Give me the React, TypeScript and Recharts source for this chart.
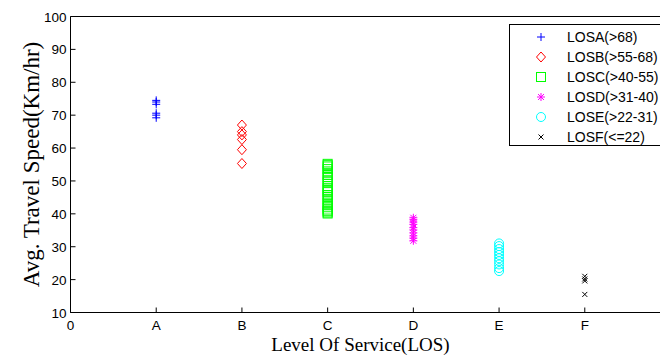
import React from "react";
import { ScatterChart, Scatter, XAxis, YAxis, Legend } from "recharts";

// category positions on the x axis (0 = origin label, then A..F)
const xTickLabels = ["0", "A", "B", "C", "D", "E", "F"];
const yTicks = [10, 20, 30, 40, 50, 60, 70, 80, 90, 100];

// travel speeds, one list per LOS class
const losA = [74.5, 74, 73.3, 70.6, 70, 69.2];
const losB = [67, 65, 64, 62.6, 59.5, 55.3];
const losC = [
  55.2, 54.8, 54.4, 53.6, 52.9, 51.8, 51.2, 50.1, 49.6, 48.4, 47.8, 47.2,
  46.6, 45.7, 45.1, 44.3, 43.4, 42.6, 42, 41.3, 40.8, 40.4, 40.1,
];
const losD = [38.8, 38.2, 37.5, 36.8, 35.8, 35.1, 34.2, 33.3, 32.6, 31.8];
const losE = [31, 30.2, 29.3, 28.4, 27.5, 26.5, 25.6, 24.6, 23.5, 22.6];
const losF = [21, 20.2, 19.6, 15.5];

type Kind = "plus" | "diamond" | "square" | "star" | "circle" | "x";

const series: { name: string; x: number; values: number[]; color: string; kind: Kind }[] = [
  { name: "LOSA(>68)", x: 1, values: losA, color: "#0000ff", kind: "plus" },
  { name: "LOSB(>55-68)", x: 2, values: losB, color: "#ff0000", kind: "diamond" },
  { name: "LOSC(>40-55)", x: 3, values: losC, color: "#00ff00", kind: "square" },
  { name: "LOSD(>31-40)", x: 4, values: losD, color: "#ff00ff", kind: "star" },
  { name: "LOSE(>22-31)", x: 5, values: losE, color: "#00ffff", kind: "circle" },
  { name: "LOSF(<=22)", x: 6, values: losF, color: "#000000", kind: "x" },
];

const tickFont = { fontFamily: "'Liberation Sans', Arial, sans-serif", fontSize: 13.5, fill: "#000" };

function Marker({ kind, cx, cy, color }: { kind: Kind; cx: number; cy: number; color: string }) {
  const p = { stroke: color, strokeWidth: 1, fill: "none" };
  switch (kind) {
    case "plus":
      return (
        <g {...p}>
          <line x1={cx - 4} y1={cy} x2={cx + 4} y2={cy} />
          <line x1={cx} y1={cy - 4} x2={cx} y2={cy + 4} />
        </g>
      );
    case "diamond":
      return <polygon {...p} points={`${cx},${cy - 5} ${cx + 4.5},${cy} ${cx},${cy + 5} ${cx - 4.5},${cy}`} />;
    case "square":
      return <rect {...p} x={cx - 4.5} y={cy - 4.5} width={9} height={9} />;
    case "star":
      return (
        <g {...p}>
          <line x1={cx - 4} y1={cy} x2={cx + 4} y2={cy} />
          <line x1={cx} y1={cy - 4} x2={cx} y2={cy + 4} />
          <line x1={cx - 3} y1={cy - 3} x2={cx + 3} y2={cy + 3} />
          <line x1={cx - 3} y1={cy + 3} x2={cx + 3} y2={cy - 3} />
        </g>
      );
    case "circle":
      return <circle {...p} cx={cx} cy={cy} r={4.5} />;
    default:
      return (
        <g {...p}>
          <line x1={cx - 2.5} y1={cy - 2.5} x2={cx + 2.5} y2={cy + 2.5} />
          <line x1={cx - 2.5} y1={cy + 2.5} x2={cx + 2.5} y2={cy - 2.5} />
        </g>
      );
  }
}

const BottomTick = (props: any) => {
  const { x, y, payload } = props;
  return (
    <g>
      <line x1={x} y1={y} x2={x} y2={y - 5} stroke="#000" />
      <text x={x} y={y + 17} textAnchor="middle" {...tickFont}>
        {xTickLabels[payload.value]}
      </text>
    </g>
  );
};

const TopTick = (props: any) => {
  const { x, y } = props;
  return <line x1={x} y1={y} x2={x} y2={y + 5} stroke="#000" />;
};

const LeftTick = (props: any) => {
  const { x, y, payload } = props;
  return (
    <g>
      <line x1={x} y1={y} x2={x + 5} y2={y} stroke="#000" />
      <text x={x - 4} y={y + 5} textAnchor="end" {...tickFont}>
        {payload.value}
      </text>
    </g>
  );
};

const RightTick = (props: any) => {
  const { x, y } = props;
  return <line x1={x} y1={y} x2={x - 5} y2={y} stroke="#000" />;
};

const LegendBox = () => (
  <div
    style={{
      border: "1px solid #000",
      background: "#fff",
      width: 165,
      height: 122,
      boxSizing: "border-box",
      paddingTop: 2,
    }}
  >
    {series.map((s) => (
      <div key={s.name} style={{ display: "flex", alignItems: "center", height: 20 }}>
        <svg width={50} height={20} style={{ display: "block" }}>
          <Marker kind={s.kind} cx={31} cy={10} color={s.color} />
        </svg>
        <span style={{ marginLeft: 7, fontFamily: "'Liberation Sans', Arial, sans-serif", fontSize: 14, color: "#000" }}>
          {s.name}
        </span>
      </div>
    ))}
  </div>
);

export default function App() {
  return (
    <div style={{ position: "absolute", left: 0, top: 0, width: 660, height: 356, overflow: "hidden", background: "#fff" }}>
      <ScatterChart width={680} height={356} margin={{ top: 15.5, right: 8.5, bottom: 42.5, left: 69.5 }}>
        <XAxis
          type="number"
          dataKey="x"
          domain={[0, 7]}
          ticks={[0, 1, 2, 3, 4, 5, 6]}
          height={1}
          tickSize={0}
          tickMargin={0}
          tickLine={false}
          axisLine={{ stroke: "#000" }}
          tick={<BottomTick />}
          interval={0}
          label={{
            position: "bottom",
            content: ({ viewBox }: any) => (
              <text
                x={viewBox.x + viewBox.width / 2 - 10}
                y={viewBox.y + 38}
                textAnchor="middle"
                fontFamily="'Liberation Serif', 'Times New Roman', serif"
                fontSize={19}
                fill="#000"
              >
                Level Of Service(LOS)
              </text>
            ),
          }}
        />
        <XAxis
          xAxisId="top"
          orientation="top"
          type="number"
          domain={[0, 7]}
          ticks={[0, 1, 2, 3, 4, 5, 6]}
          height={1}
          tickSize={0}
          tickMargin={0}
          tickLine={false}
          axisLine={{ stroke: "#000" }}
          tick={<TopTick />}
          interval={0}
        />
        <YAxis
          type="number"
          dataKey="y"
          domain={[10, 100]}
          ticks={yTicks}
          width={1}
          tickSize={0}
          tickMargin={0}
          tickLine={false}
          axisLine={{ stroke: "#000" }}
          tick={<LeftTick />}
          interval={0}
          label={{
            position: "left",
            content: ({ viewBox }: any) => {
              const cx = 31;
              const cy = viewBox.y + viewBox.height / 2;
              return (
                <text
                  x={cx}
                  y={cy}
                  transform={`rotate(-90 ${cx} ${cy})`}
                  textAnchor="middle"
                  dominantBaseline="central"
                  fontFamily="'Liberation Serif', 'Times New Roman', serif"
                  fontSize={23}
                  fill="#000"
                >
                  Avg. Travel Speed(Km/hr)
                </text>
              );
            },
          }}
        />
        <YAxis
          yAxisId="right"
          orientation="right"
          type="number"
          domain={[10, 100]}
          ticks={yTicks}
          width={1}
          tickSize={0}
          tickMargin={0}
          tickLine={false}
          axisLine={{ stroke: "#000" }}
          tick={<RightTick />}
          interval={0}
        />
        {series.map((s) => (
          <Scatter
            key={s.name}
            name={s.name}
            data={s.values.map((v) => ({ x: s.x, y: v }))}
            fill={s.color}
            isAnimationActive={false}
            shape={(props: any) => <Marker kind={s.kind} cx={props.cx} cy={props.cy} color={s.color} />}
          />
        ))}
        <Legend
          layout="vertical"
          align="center"
          verticalAlign="middle"
          content={() => <LegendBox />}
          wrapperStyle={{ left: 509, top: 24, width: 165, height: 122 }}
        />
      </ScatterChart>
    </div>
  );
}
